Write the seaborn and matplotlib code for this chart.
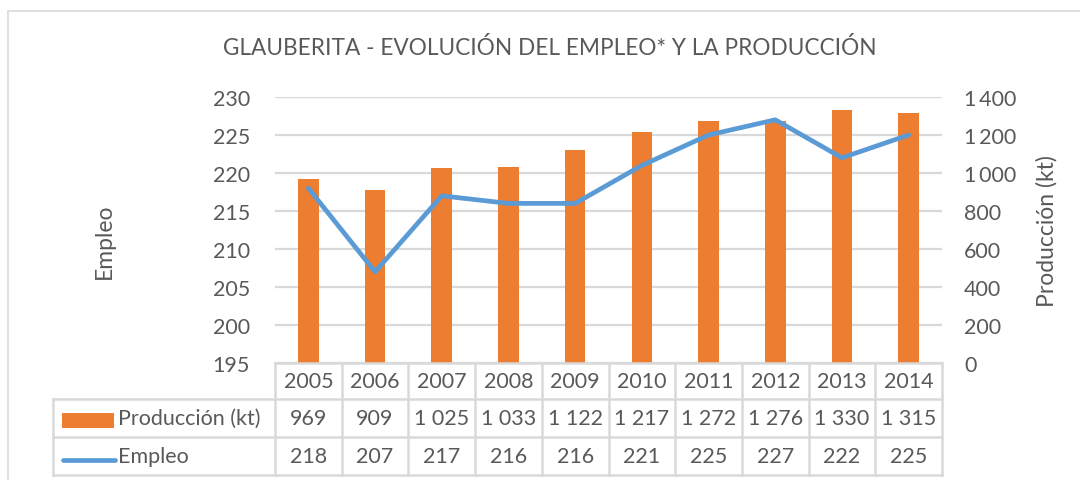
import numpy as np
import pandas as pd
import matplotlib
matplotlib.use('Agg')
import matplotlib.pyplot as plt
import matplotlib.transforms as mtransforms
from matplotlib.lines import Line2D
from matplotlib.patches import Rectangle
import seaborn as sns

# datos
years = ['2005', '2006', '2007', '2008', '2009', '2010', '2011', '2012', '2013', '2014']
produccion = [969, 909, 1025, 1033, 1122, 1217, 1272, 1276, 1330, 1315]
empleo = [218, 207, 217, 216, 216, 221, 225, 227, 222, 225]
prod_labels = ['969', '909', '1 025', '1 033', '1 122', '1 217', '1 272', '1 276', '1 330', '1 315']

df = pd.DataFrame({'year': years, 'produccion': produccion, 'empleo': empleo, 'pos': range(len(years))})

sns.set_style('white')
plt.rcParams['font.family'] = ['Lato', 'DejaVu Sans']

orange = '#ED7D31'
blue = '#5B9BD5'
txt = '#595959'
grid = '#D9D9D9'
fs = 15.5

W, H = 1080, 481
fig = plt.figure(figsize=(W / 100, H / 100), dpi=100)

# marco del grafico
fig.add_artist(Rectangle((8 / W, -0.1), 1.2, 1.1 - 12 / H, transform=fig.transFigure,
                         fill=False, edgecolor=grid, lw=1.2))

left, right, top, bottom = 275, 942, 98, 364
ax = fig.add_axes([left / W, 1 - bottom / H, (right - left) / W, (bottom - top) / H])
ax2 = ax.twinx()

# barras (eje secundario)
sns.barplot(data=df, x='year', y='produccion', color=orange, width=0.31, ax=ax2,
            saturation=1, edgecolor='none')
ax2.set_ylim(0, 1400)
ax2.set_yticks(range(0, 1401, 200))
ax2.set_yticklabels([f'{v:,}'.replace(',', '\u2009') if v >= 1000 else str(v) for v in range(0, 1401, 200)])
ax2.yaxis.grid(True, color=grid, lw=1.6)
ax2.set_axisbelow(True)

# linea (eje principal)
sns.lineplot(data=df, x='pos', y='empleo', color=blue, lw=3.4, ax=ax)
ax.set_ylim(195, 230)
ax.set_yticks(range(195, 231, 5))
ax.set_xlim(-0.5, len(years) - 0.5)
ax2.set_xlim(-0.5, len(years) - 0.5)
ax.set_zorder(ax2.get_zorder() + 1)
ax.patch.set_visible(False)

for a in (ax, ax2):
    for s in a.spines.values():
        s.set_visible(False)
    a.set_xticks([])
    a.set_xlabel('')
    a.tick_params(axis='y', length=0, labelsize=fs, labelcolor=txt)
ax.tick_params(axis='y', pad=18)
ax2.tick_params(axis='y', pad=16)

ax.set_ylabel('Empleo', fontsize=16.5, color=txt, labelpad=0)
ax.yaxis.set_label_coords(-160 / (right - left), 0.46)
ax2.set_ylabel('Producción (kt)', fontsize=16.5, color=txt)
ax2.yaxis.set_label_coords(1 + 94 / (right - left), 0.5)

fig.text(550 / W, 1 - 48 / H, 'GLAUBERITA - EVOLUCIÓN DEL EMPLEO* Y LA PRODUCCIÓN',
         ha='center', va='center', fontsize=16.3, color=txt)

# tabla de datos
tr = mtransforms.blended_transform_factory(ax.transData, fig.transFigure)
fy = lambda p: 1 - p / H
fx = lambda p: p / W
rows = [364, 400, 438, 476]
lkw = dict(color=grid, lw=1.8, solid_capstyle='projecting')
# horizontales
fig.add_artist(Line2D([-0.5, len(years) - 0.5], [fy(rows[0])] * 2, transform=tr, **lkw))
for r in rows[1:]:
    fig.add_artist(Line2D([fx(53), fx(right)], [fy(r)] * 2, transform=fig.transFigure, **lkw))
# verticales
for i in range(len(years) + 1):
    fig.add_artist(Line2D([i - 0.5] * 2, [fy(rows[0]), fy(rows[3])], transform=tr, **lkw))
fig.add_artist(Line2D([fx(53)] * 2, [fy(rows[1]), fy(rows[3])], transform=fig.transFigure, **lkw))

tkw = dict(ha='center', va='center', fontsize=fs, color=txt)
for i, y in enumerate(years):
    fig.text(i, fy(382), y, transform=tr, **tkw)
    fig.text(i, fy(419), prod_labels[i], transform=tr, **tkw)
    fig.text(i, fy(457), str(empleo[i]), transform=tr, **tkw)

fig.add_artist(Rectangle((fx(62), fy(429)), fx(52), 15 / H, transform=fig.transFigure,
                         color=orange, lw=0))
fig.add_artist(Line2D([fx(63), fx(115)], [fy(461)] * 2, transform=fig.transFigure,
                      color=blue, lw=3.4, solid_capstyle='round'))
fig.text(fx(118), fy(419), 'Producción (kt)', ha='left', va='center', fontsize=fs, color=txt)
fig.text(fx(118), fy(457), 'Empleo', ha='left', va='center', fontsize=fs, color=txt)

fig.savefig('out.png', dpi=100)
